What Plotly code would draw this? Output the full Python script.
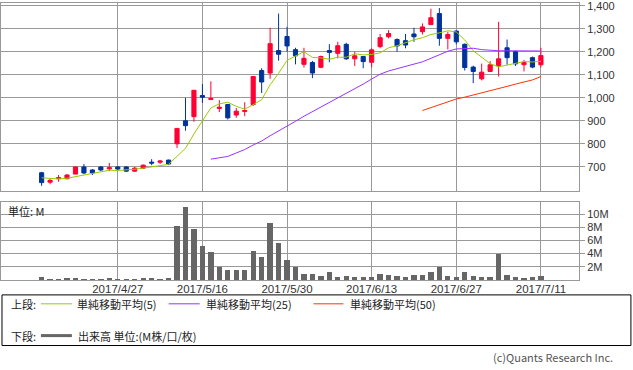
import plotly.graph_objects as go

dates = [
    "2017/4/14", "2017/4/17", "2017/4/18", "2017/4/19", "2017/4/20", "2017/4/21",
    "2017/4/24", "2017/4/25", "2017/4/26", "2017/4/27", "2017/4/28",
    "2017/5/1", "2017/5/2", "2017/5/8", "2017/5/9", "2017/5/10", "2017/5/11",
    "2017/5/12", "2017/5/15", "2017/5/16", "2017/5/17", "2017/5/18", "2017/5/19",
    "2017/5/22", "2017/5/23", "2017/5/24", "2017/5/25", "2017/5/26", "2017/5/29",
    "2017/5/30", "2017/5/31",
    "2017/6/1", "2017/6/2", "2017/6/5", "2017/6/6", "2017/6/7", "2017/6/8",
    "2017/6/9", "2017/6/12", "2017/6/13", "2017/6/14", "2017/6/15", "2017/6/16",
    "2017/6/19", "2017/6/20", "2017/6/21", "2017/6/22", "2017/6/23", "2017/6/26",
    "2017/6/27", "2017/6/28", "2017/6/29", "2017/6/30",
    "2017/7/3", "2017/7/4", "2017/7/5", "2017/7/6", "2017/7/7", "2017/7/10", "2017/7/11",
]

opens = [674, 633, 648, 648, 668, 699, 686, 699, 691, 699, 699, 681, 694, 720, 720, 729,
         800, 900, 918, 1010, 993, 954, 971, 925, 941, 971, 1119, 1108, 1206, 1267,
         1210, 1146, 1154, 1133, 1206, 1194, 1233, 1170, 1180, 1155, 1223, 1266, 1254,
         1249, 1278, 1288, 1319, 1367, 1259, 1291, 1233, 1134, 1083, 1115, 1140, 1218,
         1201, 1144, 1175, 1144]
highs = [678, 648, 664, 668, 701, 712, 690, 703, 717, 703, 703, 699, 710, 733, 729, 731,
         868, 1000, 1033, 1060, 1072, 990, 974, 956, 981, 1093, 1129, 1305, 1367, 1309,
         1218, 1218, 1161, 1184, 1234, 1244, 1240, 1201, 1182, 1216, 1278, 1295, 1259,
         1278, 1305, 1324, 1388, 1391, 1288, 1293, 1237, 1140, 1149, 1160, 1331, 1254,
         1205, 1165, 1180, 1218]
lows = [617, 624, 635, 645, 668, 668, 664, 681, 681, 686, 677, 677, 690, 707, 712, 707,
        782, 857, 896, 978, 990, 938, 906, 913, 920, 965, 1021, 1083, 1162, 1201,
        1146, 1132, 1086, 1129, 1155, 1172, 1165, 1139, 1129, 1133, 1216, 1259, 1201,
        1216, 1244, 1276, 1317, 1227, 1211, 1233, 1119, 1064, 1076, 1115, 1093, 1144,
        1139, 1115, 1129, 1132]
closes = [631, 641, 652, 664, 699, 673, 673, 686, 696, 690, 681, 694, 707, 716, 725, 712,
          867, 879, 1033, 1003, 997, 959, 913, 942, 945, 1093, 1069, 1236, 1190, 1226,
          1183, 1172, 1108, 1180, 1198, 1227, 1170, 1183, 1158, 1209, 1262, 1280, 1226,
          1230, 1266, 1309, 1349, 1259, 1276, 1244, 1132, 1115, 1112, 1144, 1170, 1175,
          1148, 1154, 1134, 1184]

volume_m = [0.35, 0.1, 0.1, 0.2, 0.25, 0.1, 0.1, 0.1, 0.25, 0.1, 0.1, 0.1, 0.25, 0.25,
            0.1, 0.25, 8.13, 11.0, 7.7, 5.14, 4.14, 1.9, 1.54, 1.54, 1.54, 4.39, 3.39,
            8.63, 5.64, 3.04, 1.9, 0.94, 0.94, 0.64, 1.14, 0.49, 0.64, 0.34, 0.34, 0.49,
            0.94, 0.79, 0.64, 0.34, 0.79, 0.79, 1.14, 1.9, 0.64, 0.34, 1.14, 0.64, 0.34,
            0.34, 3.94, 0.79, 0.34, 0.2, 0.34, 0.64]

ma5 = [652, 648, 647, 650, 657, 666, 672, 679, 685, 684, 685, 689, 694, 698, 705, 711,
       745, 780, 843, 899, 956, 974, 981, 963, 951, 970, 992, 1057, 1107, 1163,
       1181, 1201, 1176, 1174, 1168, 1177, 1177, 1192, 1187, 1189, 1196, 1218, 1227,
       1241, 1253, 1262, 1276, 1283, 1292, 1287, 1252, 1205, 1176, 1149, 1135, 1143,
       1150, 1158, 1156, 1159]
ma25 = [None] * 20 + [733, 738, 745, 760, 775, 795, 812, 835, 855, 875, 898, 920, 940,
                      958, 980, 998, 1020, 1040, 1060, 1082, 1103, 1117, 1127, 1135,
                      1145, 1157, 1172, 1188, 1203, 1213, 1216, 1216, 1210, 1207, 1205,
                      1205, 1205, 1205, 1205, 1204]
ma50 = [None] * 45 + [945, 958, 972, 983, 995, 1003, 1012, 1020, 1030, 1040, 1050,
                      1060, 1068, 1078, 1093]

date_ticks = ["2017/4/27", "2017/5/16", "2017/5/30", "2017/6/13", "2017/6/27", "2017/7/11"]
price_ticks = [700, 800, 900, 1000, 1100, 1200, 1300, 1400]
vol_ticks = [2, 4, 6, 8, 10]
vol_tick_text = ["2M", "4M", "6M", "8M", "10M"]

x = list(range(len(dates)))
tick_pos = [dates.index(d) for d in date_ticks]

W, H = 633, 370
L, R, T, B = 0, 54, 1, 90
PW, PH = W - L - R, H - T - B


def px_x(v):
    return (v - L) / PW


def px_y(v):
    return (H - B - v) / PH


GRID = "#999999"
FONT = "Noto Sans CJK JP, Noto Sans, sans-serif"
TICKFONT = "Liberation Sans, Arial, sans-serif"

fig = go.Figure()
fig.add_trace(go.Candlestick(
    x=x, open=opens, high=highs, low=lows, close=closes,
    increasing=dict(line=dict(color="#ff0033", width=1), fillcolor="#ff0033"),
    decreasing=dict(line=dict(color="#003399", width=1), fillcolor="#003399"),
    whiskerwidth=0, xaxis="x", yaxis="y", showlegend=False,
))
fig.add_trace(go.Scatter(x=x, y=ma5, mode="lines", line=dict(color="#99cc00", width=1),
                         xaxis="x", yaxis="y", showlegend=False))
fig.add_trace(go.Scatter(x=x, y=ma25, mode="lines", line=dict(color="#9933ff", width=1),
                         xaxis="x", yaxis="y", showlegend=False))
fig.add_trace(go.Scatter(x=x, y=ma50, mode="lines", line=dict(color="#ff3300", width=1),
                         xaxis="x", yaxis="y", showlegend=False))
fig.add_trace(go.Bar(x=x, y=volume_m, marker=dict(color="#666666", line=dict(width=0)),
                     width=0.63, xaxis="x2", yaxis="y2", showlegend=False))

xrange = [-4.8, 63.5]
common_x = dict(range=xrange, tickmode="array", tickvals=tick_pos, showgrid=True,
                gridcolor=GRID, gridwidth=1, showline=True, mirror=True,
                linecolor=GRID, linewidth=1, zeroline=False, ticks="")
fig.update_layout(
    width=W, height=H,
    margin=dict(l=L, r=R, t=T, b=B, pad=0),
    paper_bgcolor="white", plot_bgcolor="white",
    font=dict(family=FONT, size=11, color="#333333"),
    xaxis=dict(**common_x, domain=[0, 1], anchor="y", showticklabels=False,
               rangeslider=dict(visible=False)),
    yaxis=dict(domain=[px_y(190.7), 1], range=[593, 1413], side="right",
               tickmode="array", tickvals=price_ticks, tickformat=",d",
               showgrid=True, gridcolor=GRID, gridwidth=1, showline=True, mirror=True,
               linecolor=GRID, linewidth=1, zeroline=False, ticks="outside",
               ticklen=5, tickcolor=GRID, anchor="x", ticklabeloverflow="allow",
               tickfont=dict(size=11, color="#333333", family=TICKFONT)),
    xaxis2=dict(**common_x, domain=[0, 1], anchor="y2", showticklabels=True,
                ticktext=date_ticks, ticklabeloverflow="allow", ticklabelstandoff=-2,
                tickfont=dict(size=11.5, color="#333333", family=TICKFONT)),
    yaxis2=dict(domain=[0, px_y(201.7)], range=[0, 11.78], side="right",
                tickmode="array", tickvals=vol_ticks, ticktext=vol_tick_text,
                showgrid=True, gridcolor=GRID, gridwidth=1, showline=True, mirror=True,
                linecolor=GRID, linewidth=1, zeroline=False, ticks="outside",
                ticklen=5, tickcolor=GRID, anchor="x2", ticklabeloverflow="allow",
                tickfont=dict(size=11, color="#333333", family=TICKFONT)),
    bargap=0,
)

shapes = []
annotations = []

# legend box
shapes.append(dict(type="rect", xref="paper", yref="paper",
                   x0=px_x(1), x1=px_x(631), y0=px_y(295), y1=px_y(346),
                   line=dict(color="#000000", width=1), fillcolor="rgba(0,0,0,0)"))


def txt(t, xp, yp, anchor="left", size=11, color="#222222"):
    annotations.append(dict(text=t, x=px_x(xp), y=px_y(yp), xref="paper", yref="paper",
                            xanchor=anchor, yanchor="middle", showarrow=False,
                            font=dict(size=size, color=color, family=FONT)))


def seg(x0, x1, yp, color, width):
    shapes.append(dict(type="line", xref="paper", yref="paper",
                       x0=px_x(x0), x1=px_x(x1), y0=px_y(yp), y1=px_y(yp),
                       line=dict(color=color, width=width)))


txt("上段:", 8, 304)
seg(40, 71, 304, "#99cc00", 1)
txt("単純移動平均(5)", 74, 304)
seg(168, 199, 304, "#9933ff", 1)
txt("単純移動平均(25)", 203, 304)
seg(313, 343, 304, "#ff3300", 1)
txt("単純移動平均(50)", 348, 304)
txt("下段:", 8, 336)
seg(40, 71, 336, "#666666", 3)
txt("出来高 単位:(M株/口/枚)", 75, 336)
txt("(c)Quants Research Inc.", 615, 358, anchor="right", color="#555555")
txt("単位: M", 5, 211)

fig.update_layout(shapes=shapes, annotations=annotations)
fig.write_html("out.html", config={"displayModeBar": False},
               post_script="document.body.style.margin='0';")
